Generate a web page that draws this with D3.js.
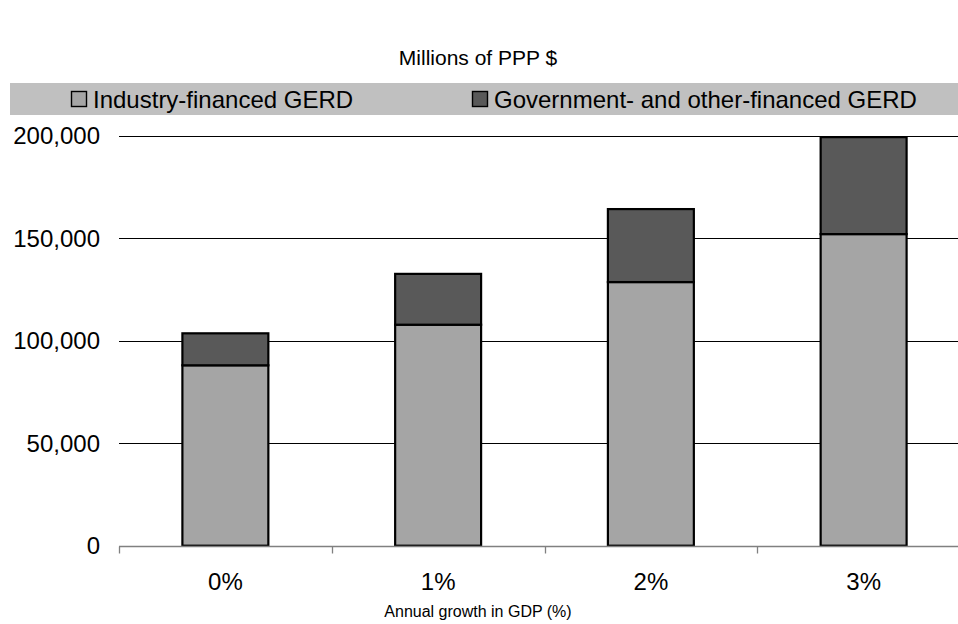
<!DOCTYPE html>
<html><head><meta charset="utf-8">
<script src="https://cdn.jsdelivr.net/npm/d3@7"></script>
<style>body{margin:0;background:#fff}svg{display:block}text{font-family:"Liberation Sans",Arial,sans-serif;fill:#000}</style>
</head><body>
<script>
const categories = ["0%", "1%", "2%", "3%"];
const industry = [88000, 107800, 128600, 152000];
const government = [15600, 24800, 35600, 47300];
const seriesNames = ["Industry-financed GERD", "Government- and other-financed GERD"];
const yTicks = [0, 50000, 100000, 150000, 200000];

const W = 958, H = 624;
const svg = d3.select("body").append("svg").attr("width", W).attr("height", H);

const x = d3.scaleBand().domain(categories).range([119, 970]).paddingInner(0.596).paddingOuter(0.298);
const y = d3.scaleLinear().domain([0, 200000]).range([545.7, 135.7]);
const colors = ["#a5a5a5", "#595959"];

// title
svg.append("text").attr("x", 478).attr("y", 65).attr("text-anchor", "middle").attr("font-size", 21).text("Millions of PPP $");

// legend band
svg.append("rect").attr("x", 10).attr("y", 83).attr("width", W - 10).attr("height", 32).attr("fill", "#c0c0c0");
const legX = [71, 472];
seriesNames.forEach((n, i) => {
  svg.append("rect").attr("x", legX[i] + 0.5).attr("y", 91.5).attr("width", 15).attr("height", 15)
    .attr("fill", colors[i]).attr("stroke", "#000").attr("stroke-width", 1.4);
  svg.append("text").attr("x", legX[i] + 22).attr("y", 107.5).attr("font-size", 24).text(n);
});

// gridlines
svg.append("g").selectAll("line").data(yTicks.slice(1)).join("line")
  .attr("x1", 119).attr("x2", W).attr("y1", d => Math.round(y(d)) + 0.5).attr("y2", d => Math.round(y(d)) + 0.5)
  .attr("stroke", "#000").attr("stroke-width", 1);

// y labels
svg.append("g").selectAll("text").data(yTicks).join("text")
  .attr("x", 100).attr("y", d => y(d) + 8.5).attr("text-anchor", "end").attr("font-size", 24)
  .text(d => d3.format(",")(d));

// bars
const stacked = categories.map((c, i) => ({c, v: [[0, industry[i]], [industry[i], industry[i] + government[i]]]}));
stacked.forEach(s => {
  s.v.forEach((seg, j) => {
    svg.append("rect").attr("x", x(s.c)).attr("width", x.bandwidth())
      .attr("y", y(seg[1])).attr("height", y(seg[0]) - y(seg[1]))
      .attr("fill", colors[j]).attr("stroke", "#000").attr("stroke-width", 2.2);
  });
});

// x axis
const axY = Math.round(y(0)) + 0.5;
svg.append("line").attr("x1", 119).attr("x2", W).attr("y1", axY).attr("y2", axY).attr("stroke", "#808080").attr("stroke-width", 1.5);
const gap = x.step() - x.bandwidth();
const bounds = categories.map(c => x(c) - gap / 2);
svg.append("g").selectAll("line").data(bounds).join("line")
  .attr("x1", d => Math.round(d) + 0.5).attr("x2", d => Math.round(d) + 0.5).attr("y1", axY).attr("y2", axY + 7)
  .attr("stroke", "#808080").attr("stroke-width", 1.3);
svg.append("g").selectAll("text").data(categories).join("text")
  .attr("x", d => x(d) + x.bandwidth() / 2).attr("y", 590).attr("text-anchor", "middle").attr("font-size", 24).text(d => d);
svg.append("text").attr("x", 478).attr("y", 617).attr("text-anchor", "middle").attr("font-size", 16).text("Annual growth in GDP (%)");
</script>
</body></html>
